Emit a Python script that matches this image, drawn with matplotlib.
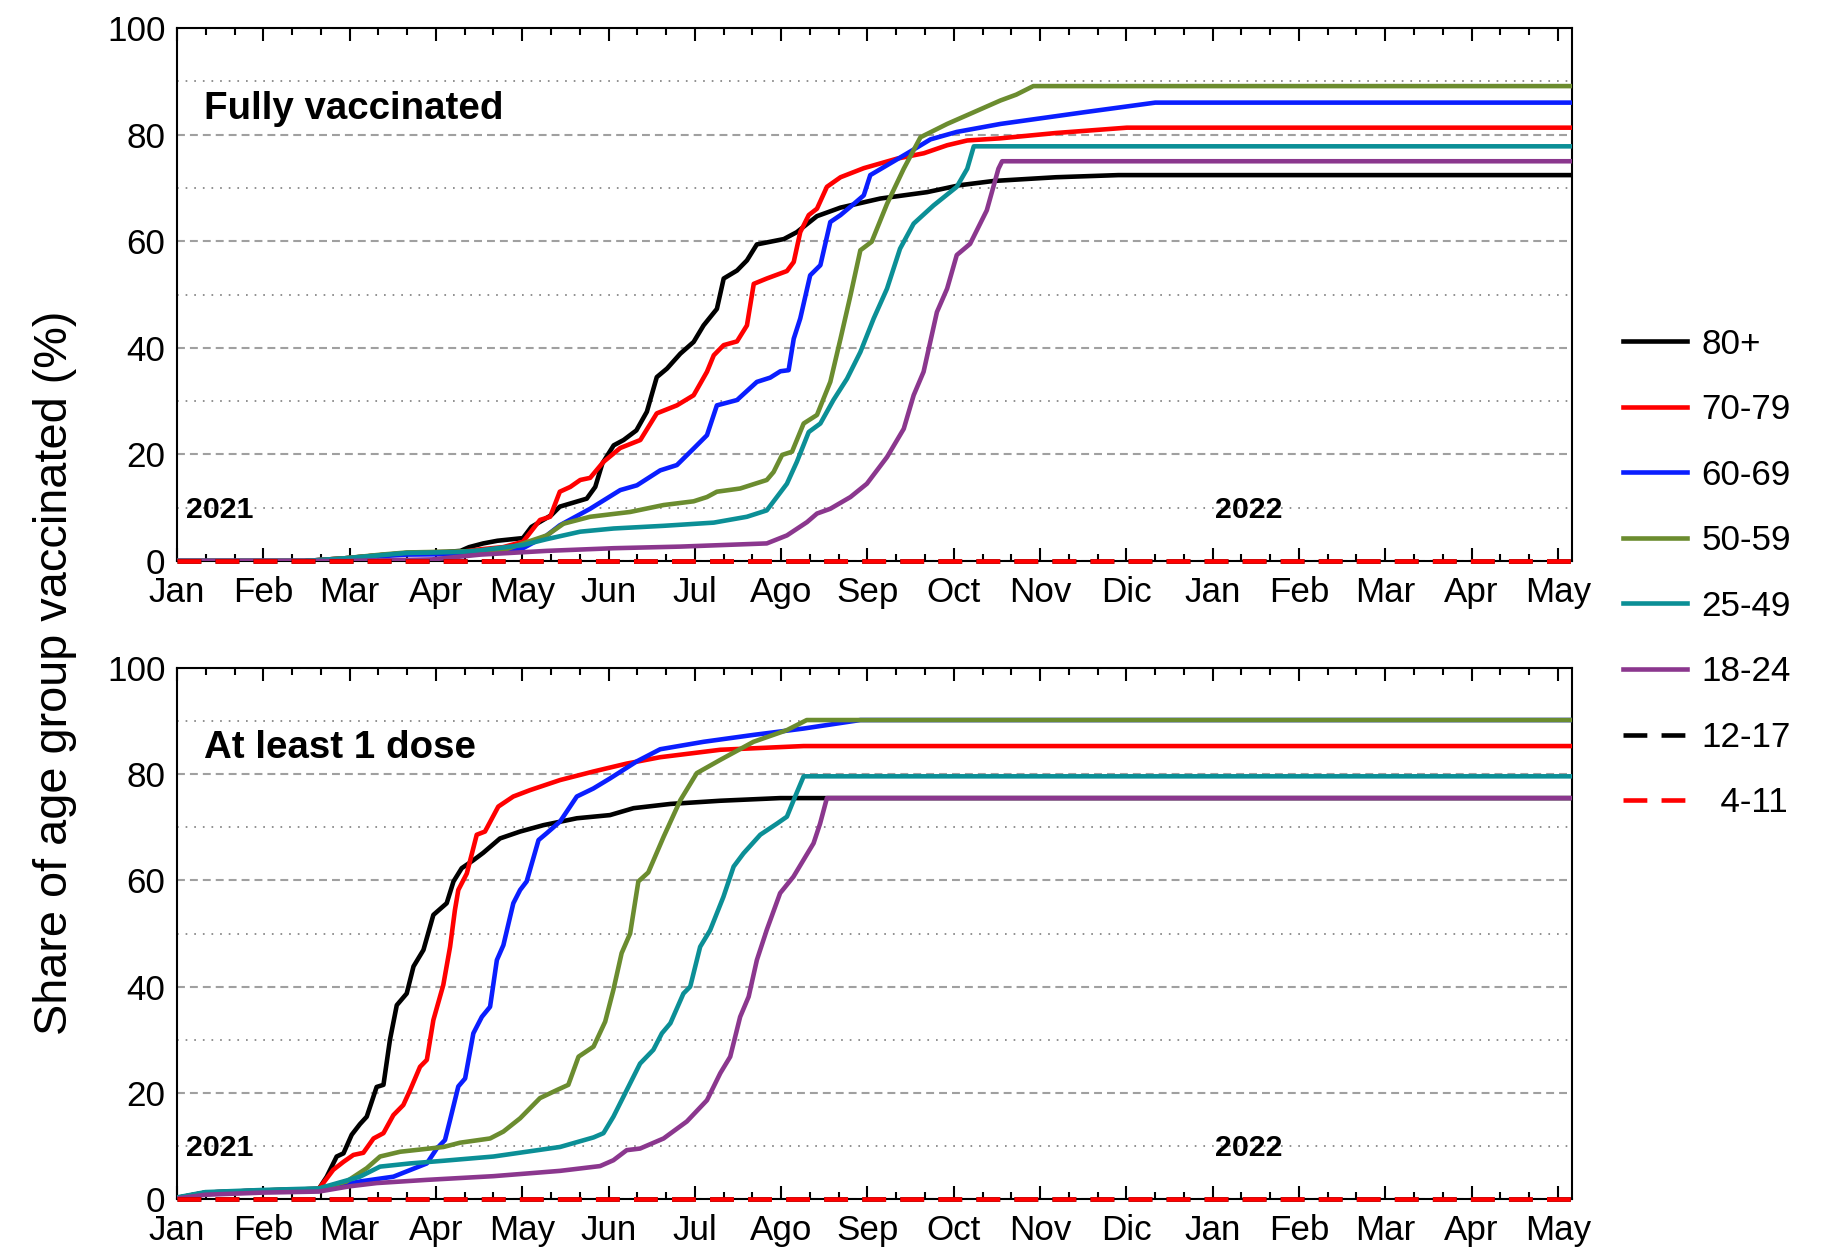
import numpy as np
import matplotlib
matplotlib.use('Agg')
import matplotlib.pyplot as plt

plt.rcParams['font.family'] = ['Liberation Sans', 'DejaVu Sans']

# x values are days since 1 Jan 2021
month_labels = ['Jan', 'Feb', 'Mar', 'Apr', 'May', 'Jun', 'Jul', 'Ago', 'Sep',
                'Oct', 'Nov', 'Dic', 'Jan', 'Feb', 'Mar', 'Apr', 'May']
groups = ['80+', '70-79', '60-69', '50-59', '25-49', '18-24', '12-17', '  4-11']
colors = ['#000000', '#ff0000', '#0a1eff', '#6b8c2f', '#0b8f96', '#8b378e', '#000000', '#ff0000']

#Fully vaccinated
full_80_d = [0, 45, 59, 72, 81, 95, 100, 103, 108, 113, 122, 125, 132, 135, 144.5, 147.5, 150, 154, 157.5,
             162, 165.7, 169.2, 172.8, 177.5, 182.2, 185.7, 190.4, 192.8, 197.5, 201, 204.5, 214, 218.6,
             225.7, 234, 248, 264.5, 276, 288, 310, 332, 492]
full_80_v = [0, 0, 0.5, 1.1, 1.5, 1.7, 1.9, 2.6, 3.3, 3.8, 4.3, 6.4, 8.6, 10.2, 11.7, 13.9, 18.3, 21.7, 22.7,
             24.5, 28, 34.5, 36.1, 38.9, 41.1, 44.2, 47.3, 53, 54.5, 56.4, 59.4, 60.4, 61.7,
             64.7, 66.3, 68, 69.2, 70.5, 71.3, 72.0, 72.4, 72.4]

full_70_d = [0, 45, 59, 72, 81, 100, 107, 115, 122, 128, 131.6, 135, 138.7, 142.2, 145.7, 150.4, 156.3,
             163.4, 169.2, 176.3, 182.2, 186.9, 189.3, 192.8, 197.5, 201, 203.4, 208, 215.1, 217.5, 219.8,
             222.8, 225.7, 229.2, 234, 242.2, 254, 263.4, 271.6, 278.7, 290.4, 310, 335, 492]
full_70_v = [0, 0, 0.5, 1.1, 1.4, 1.7, 2.2, 2.6, 3.6, 7.7, 8.3, 13, 13.9, 15.2, 15.6, 18.6, 21.2,
             22.7, 27.7, 29.2, 31.1, 35.5, 38.6, 40.5, 41.2, 44.2, 52, 53, 54.4, 56.1, 61.7,
             64.9, 66.1, 70.2, 72, 73.7, 75.5, 76.5, 78, 78.9, 79.3, 80.3, 81.3, 81.3]

full_60_d = [0, 45, 59, 72, 81, 100, 115, 122, 130.4, 135, 145.7, 156.3, 162.2, 170.4, 176.3, 182.2, 186.9,
             190.4, 197.5, 204.5, 209.2, 212.8, 215.7, 217.5, 219.8, 223.3, 226.9, 230.4, 234, 238.7,
             242.2, 244.5, 252.8, 259.8, 265.7, 275, 290.4, 320, 345, 492]
full_60_v = [0, 0, 0.4, 0.9, 1.2, 1.3, 1.6, 2.4, 4.8, 6.7, 9.8, 13.3, 14.2, 17, 18, 21.1, 23.6,
             29.2, 30.2, 33.6, 34.4, 35.6, 35.8, 41.7, 45.5, 53.6, 55.5, 63.6, 64.9, 67,
             68.6, 72.4, 75, 77.2, 79.1, 80.5, 82, 84.2, 86, 86]

full_50_d = [0, 45, 59, 72, 81, 100, 115, 122, 130.4, 136.3, 145.7, 159.8, 171.6, 182.2, 186.9, 190.4,
             198.6, 208, 210.4, 213.4, 216.9, 221, 225.7, 230.4, 234, 237.5, 241, 245, 250.4, 256.3,
             262.2, 271.6, 281, 290.4, 296, 302, 492]
full_50_v = [0, 0, 0.5, 1.2, 1.6, 1.8, 2.0, 3.3, 4.8, 7, 8.3, 9.2, 10.5, 11.2, 12, 13,
             13.6, 15.2, 16.7, 19.9, 20.5, 25.8, 27.4, 33.6, 41.7, 49.8, 58.3, 59.9, 67, 73.6,
             79.5, 82, 84.2, 86.4, 87.5, 89.1, 89.1]

full_25_d = [0, 45, 59, 72, 81, 100, 107, 122, 130.4, 142.2, 154, 171.6, 189.3, 201, 208, 215.1, 218.6,
             222.8, 226.9, 231.5, 236.3, 241, 245.7, 250.4, 255, 259.8, 266.8, 275, 278.7, 281, 492]
full_25_v = [0, 0, 0.5, 1.1, 1.5, 1.7, 2.0, 3.0, 4.1, 5.5, 6.1, 6.6, 7.2, 8.3, 9.5, 14.5, 18.6,
             24.2, 25.8, 30.2, 34.2, 39.2, 45.5, 51.1, 58.6, 63.3, 66.7, 70.2, 73.6, 77.8, 77.8]

full_18_d = [0, 59, 90, 107, 130.4, 154, 177.5, 208, 215.1, 222.2, 225.7, 230.4, 237.5, 243.3, 250.4,
             256.3, 259.8, 263.3, 268, 271.6, 275, 279.7, 285.6, 289.7, 291, 492]
full_18_v = [0, 0, 0.3, 1.2, 1.9, 2.4, 2.7, 3.3, 4.8, 7.3, 8.9, 9.8, 12, 14.5, 19.5,
             24.8, 31.1, 35.5, 46.7, 51.1, 57.4, 59.5, 65.8, 73.6, 75, 75]

full_12_d = [0, 492]
full_12_v = [0, 0]
full_4_d = [0, 492]
full_4_v = [0, 0]

#At least 1 dose
one_80_d = [0, 10, 30, 50, 52.8, 56.3, 58.7, 61.6, 64.5, 66.9, 70.4, 72.8, 75.1, 77.5, 81, 83.4, 86.9,
            90.4, 95.1, 97.5, 100.4, 104.5, 108, 113.9, 121, 129.2, 141, 152.7, 161, 174, 191.6, 212.7, 492]
one_80_v = [0.2, 1.2, 1.6, 1.9, 4.2, 8, 8.6, 12.1, 14.1, 15.5, 21.1, 21.5, 30, 36.5, 38.7, 43.8, 46.9,
            53.5, 55.7, 59.8, 62.3, 63.8, 65.2, 67.9, 69.2, 70.4, 71.7, 72.3, 73.6, 74.4, 75, 75.5, 75.5]

one_70_d = [0, 10, 30, 50, 55.1, 58.7, 62.2, 65.7, 69.3, 72.8, 76.3, 79.8, 82.2, 85.7, 88.1, 90.4, 93.9,
            96.3, 98, 99.2, 102.2, 105.7, 108.6, 113.3, 118.6, 124.5, 135.1, 146.8, 158.6, 170.4, 191.6,
            221, 492]
one_70_v = [0.2, 1.2, 1.6, 1.9, 5.5, 7, 8.3, 8.7, 11.4, 12.4, 15.8, 17.7, 20.5, 24.9, 26.2, 33.7, 40.3,
            47.5, 54.4, 58.2, 61.3, 68.6, 69.2, 73.9, 75.8, 77, 78.9, 80.5, 82, 83.2, 84.6,
            85.3, 85.3]

one_60_d = [0, 10, 30, 50, 64.5, 76.3, 88.1, 91.6, 94.5, 96.3, 99.2, 101.6, 104.5, 107.5, 110.4, 112.8,
            115.1, 118.6, 121, 123.3, 127.5, 130.4, 135.1, 141, 146.8, 152.7, 162.1, 170.4, 185.7, 203.3,
            221, 241, 492]
one_60_v = [0.2, 1.2, 1.6, 1.8, 3.3, 4.2, 6.7, 9.5, 11.1, 14.9, 21.2, 22.7, 31.2, 34.3, 36.2, 45,
            47.8, 55.7, 58.2, 59.8, 67.6, 68.9, 71.1, 75.8, 77.3, 79.2, 82.4, 84.7, 86.1, 87.4,
            88.6, 90.2, 90.2]

one_50_d = [0, 10, 30, 50, 59.8, 66.9, 71.6, 78.7, 94, 99.8, 110.4, 115.1, 121, 128, 133.9, 138, 141.6,
            146.9, 151, 153.9, 156.8, 159.8, 162.7, 166.2, 171.6, 177.5, 183.3, 191.6, 203.3, 215.1,
            222.1, 492]
one_50_v = [0.2, 1.2, 1.6, 1.9, 3.3, 5.8, 8, 8.9, 9.8, 10.6, 11.4, 12.7, 15.2, 19, 20.5, 21.5, 26.8,
            28.7, 33.4, 39.4, 46.3, 50, 59.8, 61.5, 68.2, 75.1, 80.2, 82.7, 86.1, 88.3,
            90.2, 90.2]

one_25_d = [0, 10, 30, 50, 64.5, 71.6, 82.2, 94, 111.6, 123.3, 135.1, 146.9, 150.4, 153.9, 158.6, 163.3,
            168, 171, 174, 178.6, 181, 184.5, 188, 192.7, 196.3, 199.8, 205.7, 211.6, 215.1, 218, 221, 492]
one_25_v = [0.3, 1.3, 1.7, 2.0, 4.2, 6.1, 6.7, 7.2, 8, 8.9, 9.8, 11.6, 12.4, 15.5, 20.5, 25.5,
            28.1, 31.2, 33.1, 38.7, 40, 47.5, 50.6, 56.9, 62.6, 65.1, 68.6, 70.7, 72, 75.8, 79.6, 79.6]

one_18_d = [0, 10, 30, 50, 61, 70.4, 88, 111.6, 135.1, 149.2, 153.9, 158.6, 163.3, 171.6, 179.8, 186.9,
            191.6, 195.1, 198.6, 201.6, 204.5, 208, 212.7, 217.4, 224.5, 226.8, 229.2, 492]
one_18_v = [0.1, 0.8, 1.2, 1.4, 2.4, 3.0, 3.6, 4.3, 5.3, 6.2, 7.3, 9.2, 9.5, 11.4, 14.6, 18.6,
            23.7, 26.8, 34.3, 38.1, 45, 50.7, 57.6, 60.7, 67, 70.7, 75.5, 75.5]

one_12_d = [0, 492]
one_12_v = [0, 0]
one_4_d = [0, 492]
one_4_v = [0, 0]

full_series = [(full_80_d, full_80_v), (full_70_d, full_70_v), (full_60_d, full_60_v),
               (full_50_d, full_50_v), (full_25_d, full_25_v), (full_18_d, full_18_v),
               (full_12_d, full_12_v), (full_4_d, full_4_v)]
one_series = [(one_80_d, one_80_v), (one_70_d, one_70_v), (one_60_d, one_60_v),
              (one_50_d, one_50_v), (one_25_d, one_25_v), (one_18_d, one_18_v),
              (one_12_d, one_12_v), (one_4_d, one_4_v)]

month = 30.4375
dash = (0, (5.2, 3.1))

fig = plt.figure(figsize=(1829/150, 1250/150), dpi=150)
ax1 = fig.add_axes([0.0968, 0.5512, 0.7627, 0.4264])
ax2 = fig.add_axes([0.0968, 0.0408, 0.7627, 0.4248])

handles = []
for ax, series, title in [(ax1, full_series, 'Fully vaccinated'), (ax2, one_series, 'At least 1 dose')]:
    for i, (d, v) in enumerate(series):
        if i >= 6:
            ln, = ax.plot(d, v, color=colors[i], lw=2.2, linestyle=dash, clip_on=False, zorder=4)
        else:
            ln, = ax.plot(d, v, color=colors[i], lw=2.2, zorder=3)
        if ax is ax1:
            handles.append(ln)

    ax.set_xlim(0, 492)
    ax.set_ylim(0, 100)
    ax.set_xticks([i*month for i in range(17)])
    ax.set_xticks([i*month/3 for i in range(49) if i % 3 != 0], minor=True)
    ax.set_xticklabels(month_labels)
    ax.set_yticks([0, 20, 40, 60, 80, 100])
    ax.set_yticks([10, 30, 50, 70, 90], minor=True)
    ax.tick_params(axis='x', which='major', direction='in', top=True, bottom=True,
                   length=6.2, width=1.0, labelsize=16.8, pad=7)
    ax.tick_params(axis='x', which='minor', direction='in', top=True, bottom=True,
                   length=3.2, width=1.0)
    ax.tick_params(axis='y', which='both', length=0, labelsize=16.8, pad=5.5)
    ax.grid(True, axis='y', which='major', color='#a0a0a0', lw=1.0, linestyle=(0, (3.8, 2.4)))
    ax.grid(True, axis='y', which='minor', color='#8c8c8c', lw=0.9, linestyle=(0, (0.9, 3.7)))
    ax.set_axisbelow(True)
    for sp in ax.spines.values():
        sp.set_linewidth(1.0)

    ax.text(9.5, 83, title, fontsize=18.5, fontweight='bold', va='baseline', ha='left')
    ax.text(3.2, 8.1, '2021', fontsize=14.5, fontweight='bold', va='baseline', ha='left')
    ax.text(366, 8.1, '2022', fontsize=14.5, fontweight='bold', va='baseline', ha='left')

fig.text(0.030, 0.462, 'Share of age group vaccinated (%)', rotation=90, fontsize=22.5,
         ha='center', va='center')

fig.legend(handles, groups, loc='upper left', bbox_to_anchor=(0.8874, 0.738), frameon=False,
           fontsize=16.8, handlelength=1.83, handletextpad=0.4, labelspacing=0.93, borderpad=0,
           borderaxespad=0)

fig.savefig('out.png', dpi=150)
